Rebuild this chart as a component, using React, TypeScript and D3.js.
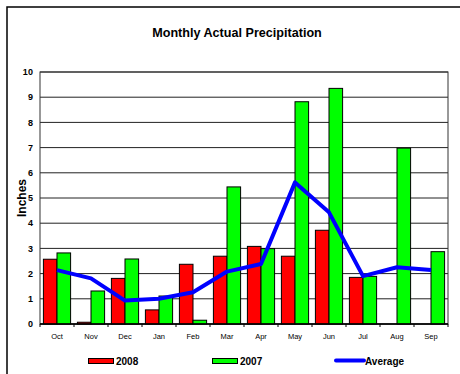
import React from "react";
import * as d3 from "d3";

const months = ["Oct", "Nov", "Dec", "Jan", "Feb", "Mar", "Apr", "May", "Jun", "Jul", "Aug", "Sep"];
const values2008: (number | null)[] = [2.57, 0.07, 1.81, 0.56, 2.37, 2.69, 3.08, 2.69, 3.72, 1.85, null, null];
const values2007: number[] = [2.82, 1.31, 2.58, 1.11, 0.15, 5.44, 2.99, 8.82, 9.35, 1.89, 6.98, 2.87];
const average: number[] = [2.14, 1.81, 0.93, 1.0, 1.26, 2.08, 2.38, 5.62, 4.43, 1.9, 2.25, 2.14];
const yTicks = [0, 1, 2, 3, 4, 5, 6, 7, 8, 9, 10];

const W = 460;
const H = 374;
const L = 40, R = 448, T = 72, B = 324;
const FONT = "'Liberation Sans', Arial, sans-serif";

export default function App() {
  const x = d3.scaleBand<string>().domain(months).range([L, R]).paddingInner(0).paddingOuter(0);
  const y = d3.scaleLinear().domain([0, 10]).range([B, T]);
  const bw = x.bandwidth();
  const groupPad = bw * 0.1;
  const barW = (bw - 2 * groupPad) / 2;

  const line = d3
    .line<number>()
    .x((_, i) => (x(months[i]) as number) + bw / 2)
    .y((d) => y(d));

  return (
    <svg
      width={W}
      height={H}
      style={{ position: "fixed", left: 0, top: 0, background: "#fff" }}
      fontFamily={FONT}
    >
      <rect x={7} y={7} width={W + 10} height={H + 10} fill="#fff" stroke="#000" strokeWidth={1.5} />
      <text x={237} y={36.5} textAnchor="middle" fontSize={12.6} fontWeight="bold">
        Monthly Actual Precipitation
      </text>

      {/* gridlines */}
      {yTicks.map((t) => (
        <line key={"g" + t} x1={L} x2={R} y1={y(t)} y2={y(t)} stroke="#222" strokeWidth={1} />
      ))}
      <rect x={L} y={T} width={R - L} height={B - T} fill="none" stroke="#333" strokeWidth={1} />

      {/* y tick labels */}
      {yTicks.map((t) => (
        <text
          key={"yl" + t}
          x={33.5}
          y={y(t)}
          dy="0.35em"
          textAnchor="end"
          fontSize={9}
          fontWeight="bold"
          letterSpacing={0.4}
        >
          {t}
        </text>
      ))}
      <text
        transform={`translate(26,${(T + B) / 2}) rotate(-90)`}
        textAnchor="middle"
        fontSize={12}
        fontWeight="bold"
      >
        Inches
      </text>

      {/* bars */}
      {months.map((m, i) => {
        const x0 = (x(m) as number) + groupPad;
        const v8 = values2008[i];
        const v7 = values2007[i];
        return (
          <g key={m}>
            {v8 != null && (
              <rect x={x0} y={y(v8)} width={barW} height={B - y(v8)} fill="#ff0000" stroke="#000" strokeWidth={1} />
            )}
            {v7 != null && (
              <rect x={x0 + barW} y={y(v7)} width={barW} height={B - y(v7)} fill="#00ff00" stroke="#000" strokeWidth={1} />
            )}
          </g>
        );
      })}

      {/* x axis */}
      <line x1={L} x2={R} y1={B} y2={B} stroke="#000" strokeWidth={1.5} />
      {months.map((m) => (
        <line key={"t" + m} x1={x(m) as number} x2={x(m) as number} y1={B} y2={B + 3} stroke="#000" />
      ))}
      <line x1={R} x2={R} y1={B} y2={B + 3} stroke="#000" />
      {months.map((m) => (
        <text key={"xl" + m} x={(x(m) as number) + bw / 2} y={338.5} textAnchor="middle" fontSize={7.5} fill="#000">
          {m}
        </text>
      ))}

      {/* average line */}
      <path d={line(average) as string} fill="none" stroke="#0000ff" strokeWidth={4} strokeLinejoin="round" />

      {/* legend */}
      <rect x={88.5} y={358.5} width={25} height={5} fill="#ff0000" stroke="#000" strokeWidth={1} />
      <text x={116} y={364.5} fontSize={10} fontWeight="bold">2008</text>
      <rect x={212.5} y={358.5} width={25} height={5} fill="#00ff00" stroke="#000" strokeWidth={1} />
      <text x={240} y={364.5} fontSize={10} fontWeight="bold">2007</text>
      <line x1={336} x2={364} y1={360.5} y2={360.5} stroke="#0000ff" strokeWidth={4} strokeLinecap="round" />
      <text x={365} y={364.5} fontSize={10} fontWeight="bold">Average</text>
    </svg>
  );
}
